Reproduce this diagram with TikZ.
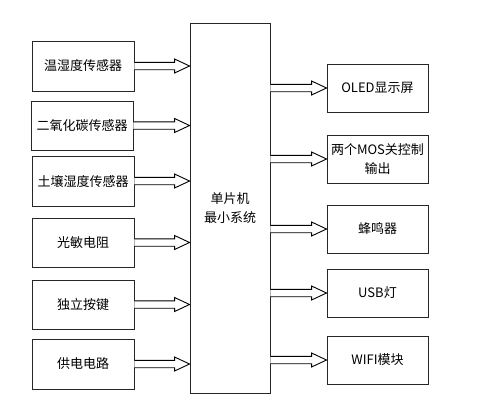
\documentclass[tikz,border=0pt]{standalone}
\usepackage{fontspec}
\setmainfont{Noto Sans CJK SC}
\usetikzlibrary{calc}
\tikzset{
  box/.style={draw=black!85, line width=0.9pt, inner sep=0pt, align=center, font=\fontsize{13pt}{18.5pt}\selectfont},
  arrowline/.style={draw=black, line width=0.9pt, fill=white, line join=miter},
}
\newcommand\blkarrow[2]{%
  \draw[arrowline] let \p1=(#1), \p2=(#2) in
    (\x1,\y1+3.7pt) -- (\x2-15pt,\y1+3.7pt) -- (\x2-15pt,\y1+7pt) -- (\x2,\y1)
    -- (\x2-15pt,\y1-7pt) -- (\x2-15pt,\y1-3.7pt) -- (\x1,\y1-3.7pt);
}
\begin{document}
\begin{tikzpicture}[x=1pt,y=-1pt]
\useasboundingbox (0,0) rectangle (479,407);
% left boxes
\node[box, minimum width=102pt, minimum height=50pt] (s1) at (83,66) {温湿度传感器};
\node[box, minimum width=102pt, minimum height=49pt] (s2) at (82,125.5) {二氧化碳传感器};
\node[box, minimum width=102pt, minimum height=50pt] (s3) at (83,181) {土壤湿度传感器};
\node[box, minimum width=102pt, minimum height=49pt] (s4) at (83,242.5) {光敏电阻};
\node[box, minimum width=102pt, minimum height=49pt] (s5) at (83,304.5) {独立按键};
\node[box, minimum width=102pt, minimum height=50pt] (s6) at (83,364) {供电电路};
% central
\node[box, minimum width=80pt, minimum height=370pt] (mcu) at (230,208) {单片机\\最小系统};
% right boxes
\node[box, minimum width=101pt, minimum height=48pt] (o1) at (377.5,88) {OLED显示屏};
\node[box, minimum width=101pt, minimum height=48pt] (o2) at (377.5,159) {两个MOS关控制\\输出};
\node[box, minimum width=101pt, minimum height=48pt] (o3) at (377.5,229) {蜂鸣器};
\node[box, minimum width=101pt, minimum height=48pt] (o4) at (377.5,293) {USB灯};
\node[box, minimum width=101pt, minimum height=48pt] (o5) at (377.5,360) {WIFI模块};
% arrows
\foreach \s in {s1,s2,s3,s4,s5,s6}{\blkarrow{\s.east}{mcu.west |- \s.east}}
\foreach \o in {o1,o2,o3,o4,o5}{\blkarrow{mcu.east |- \o.west}{\o.west}}
\end{tikzpicture}
\end{document}
